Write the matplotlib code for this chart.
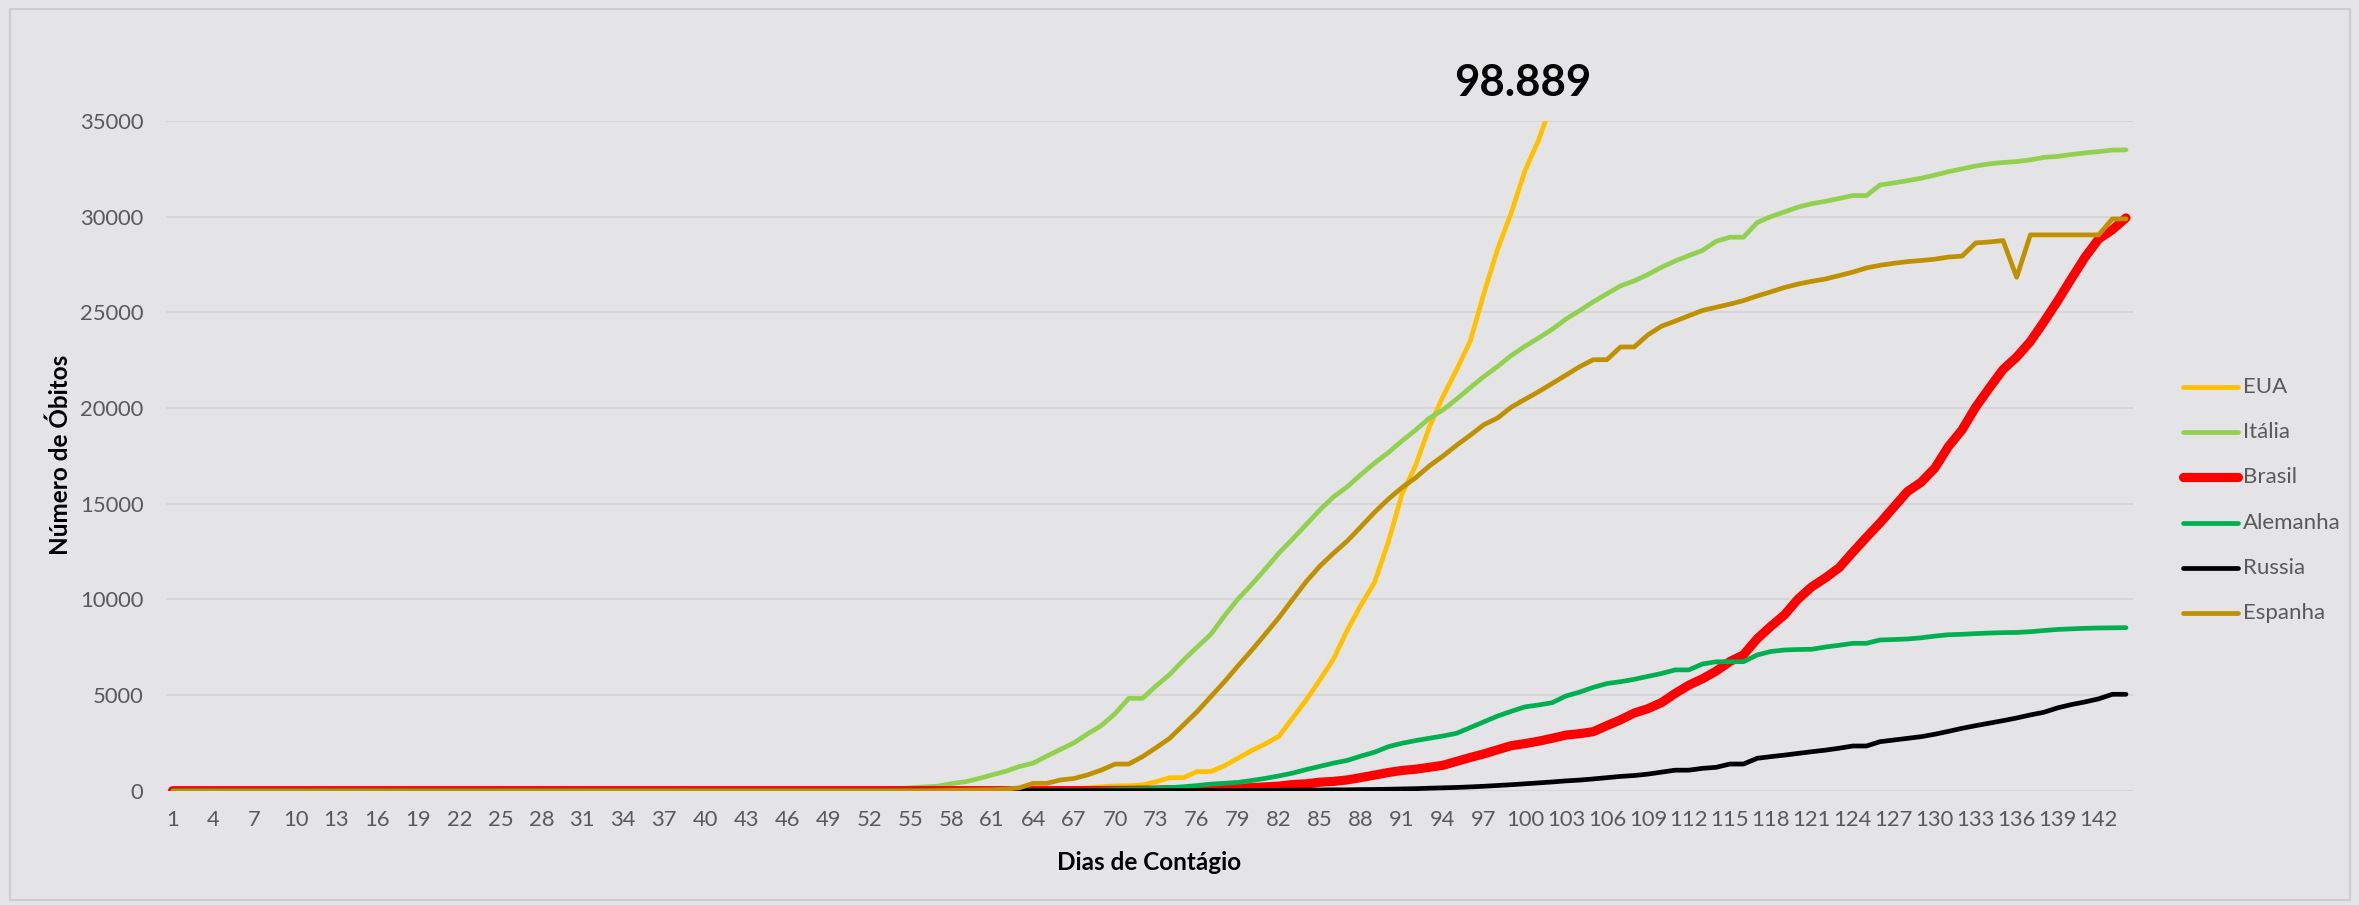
import matplotlib
matplotlib.use("Agg")
import matplotlib.pyplot as plt
from matplotlib.patches import Rectangle
from matplotlib.lines import Line2D

# ---------------- data ----------------
days = list(range(1, 145))

eua = [0] * 49 + [
    1, 1, 6, 9, 11, 12, 15, 19, 22, 26,            # 50-59
    30, 38, 41, 48, 57, 69, 87, 110, 150, 205,     # 60-69
    250, 260, 300, 470, 680, 680, 1000, 1000, 1300, 1700,   # 70-79
    2100, 2450, 2850, 3800, 4750, 5800, 6900, 8400, 9700, 10900,  # 80-89
    13000, 15500, 17000, 19000, 20600, 22000, 23500, 26000, 28300, 30200,  # 90-99
    32400, 34000, 36000,                            # 100-102
]

italia = [0] * 41 + [
    1, 2, 3, 7, 10, 12, 17, 21,                     # 42-49
    29, 34, 52, 79, 107, 148, 197, 233, 366, 463,   # 50-59
    631, 827, 1016, 1266, 1441, 1809, 2158, 2503, 2978, 3405,  # 60-69
    4032, 4825, 4825, 5476, 6077, 6820, 7503, 8165, 9134, 10023,  # 70-79
    10779, 11591, 12428, 13155, 13915, 14681, 15362, 15887, 16523, 17127,  # 80-89
    17669, 18279, 18849, 19468, 19899, 20465, 21067, 21645, 22170, 22745,  # 90-99
    23227, 23660, 24114, 24648, 25085, 25549, 25969, 26384, 26644, 26977,  # 100-109
    27359, 27682, 27967, 28236, 28710, 28926, 28926, 29690, 30000, 30250,  # 110-119
    30500, 30680, 30800, 30950, 31102, 31102, 31660, 31760, 31880, 32010,  # 120-129
    32170, 32350, 32500, 32650, 32760, 32830, 32880, 32970, 33100, 33150,  # 130-139
    33250, 33330, 33400, 33480, 33490,              # 140-144
]

brasil = [0] * 66 + [
    1, 4, 6,                                        # 67-69
    11, 18, 25, 34, 46, 59, 77, 92, 111, 136,       # 70-79
    159, 201, 240, 324, 359, 445, 486, 564, 686, 819,  # 80-89
    950, 1057, 1124, 1223, 1328, 1532, 1736, 1924, 2141, 2354,  # 90-99
    2462, 2587, 2741, 2906, 2980, 3084, 3400, 3704, 4057, 4286,  # 100-109
    4603, 5083, 5513, 5850, 6250, 6750, 7100, 7938, 8588, 9190,  # 110-119
    10017, 10656, 11123, 11653, 12461, 13240, 13999, 14817, 15633, 16118,  # 120-129
    16853, 17983, 18859, 20047, 21048, 22013, 22666, 23473, 24512, 25598,  # 130-139
    26754, 27878, 28834, 29314, 29937,              # 140-144
]

alemanha = [0] * 58 + [
    2,                                              # 59
    2, 3, 3, 7, 9, 11, 17, 24, 28, 44,              # 60-69
    67, 84, 94, 123, 157, 206, 267, 342, 385, 433,  # 70-79
    533, 645, 775, 920, 1107, 1275, 1444, 1584, 1810, 2016,  # 80-89
    2300, 2480, 2620, 2740, 2860, 3000, 3300, 3600, 3900, 4150,  # 90-99
    4380, 4480, 4600, 4950, 5150, 5400, 5600, 5697, 5822, 5976,  # 100-109
    6126, 6314, 6314, 6623, 6736, 6744, 6744, 7093, 7275, 7354,  # 110-119
    7380, 7392, 7510, 7600, 7703, 7703, 7877, 7900, 7929, 7990,  # 120-129
    8080, 8150, 8174, 8210, 8240, 8260, 8270, 8310, 8372, 8428,  # 130-139
    8460, 8487, 8504, 8515, 8521,                   # 140-144
]

russia = [0] * 68 + [
    1,                                              # 69
    1, 1, 1, 1, 1, 3, 3, 4, 4, 8,                   # 70-79
    9, 17, 24, 30, 34, 43, 45, 47, 58, 63,          # 80-89
    76, 94, 106, 130, 148, 170, 198, 232, 273, 313,  # 90-99
    361, 405, 456, 513, 555, 615, 681, 747, 794, 867,  # 100-109
    972, 1073, 1073, 1169, 1222, 1394, 1394, 1692, 1780, 1860,  # 110-119
    1950, 2038, 2120, 2220, 2336, 2336, 2562, 2650, 2740, 2823,  # 120-129
    2950, 3100, 3261, 3400, 3530, 3660, 3800, 3960, 4100, 4330,  # 130-139
    4500, 4640, 4800, 5039, 5039,                   # 140-144
]

espanha = [0] * 52 + [
    1, 2, 3, 5, 10, 17, 28,                         # 53-59
    35, 54, 84, 150, 385, 385, 560, 640, 830, 1080,  # 60-69
    1394, 1394, 1777, 2250, 2741, 3434, 4129, 4913, 5690, 6528,  # 70-79
    7340, 8189, 9053, 10003, 10935, 11744, 12418, 13055, 13798, 14555,  # 80-89
    15238, 15843, 16353, 16972, 17489, 18056, 18579, 19130, 19478, 20043,  # 90-99
    20453, 20852, 21282, 21717, 22157, 22524, 22524, 23190, 23190, 23822,  # 100-109
    24275, 24543, 24824, 25100, 25264, 25428, 25613, 25857, 26070, 26299,  # 110-119
    26478, 26621, 26744, 26920, 27104, 27321, 27459, 27563, 27650, 27709,  # 120-129
    27778, 27888, 27940, 28628, 28678, 28752, 26834, 29047, 29047, 29047,  # 130-139
    29047, 29047, 29047, 29883, 29883,              # 140-144
]

series_names = ["EUA", "Itália", "Brasil", "Alemanha", "Russia", "Espanha"]
series_values = [eua, italia, brasil, alemanha, russia, espanha]
series_colors = ["#FFC000", "#92D050", "#FF0000", "#00B050", "#000000", "#BF9000"]
series_widths = [3.4, 3.4, 6.6, 3.4, 3.4, 3.4]

xtick_labels = list(range(1, 143, 3))
ytick_values = list(range(0, 35001, 5000))
annotation_text = "98.889"

# ---------------- figure ----------------
W, H = 2359, 905
BG = "#E4E4E6"
fig = plt.figure(figsize=(W / 100, H / 100), dpi=100, facecolor=BG)

left_px, right_px = 165.7, 2132.8
bottom_px, top_px = 790.7, 121.0
ax = fig.add_axes([left_px / W, 1 - bottom_px / H,
                   (right_px - left_px) / W, (bottom_px - top_px) / H])
ax.set_facecolor(BG)

FONT = ["Lato", "DejaVu Sans"]
TICK_COLOR = "#595959"

for name, vals, col, lw in zip(series_names, series_values, series_colors, series_widths):
    ax.plot(days[:len(vals)], vals, color=col, lw=lw, label=name,
            solid_capstyle="round", solid_joinstyle="round", zorder=3)

ax.set_xlim(0.5, 144.5)
ax.set_ylim(0, 35000)

ax.set_yticks(ytick_values)
ax.set_yticklabels([str(v) for v in ytick_values], fontfamily=FONT,
                   fontsize=15.8, color=TICK_COLOR)
ax.set_xticks(xtick_labels)
ax.set_xticklabels([str(v) for v in xtick_labels], fontfamily=FONT,
                   fontsize=15.8, color=TICK_COLOR)
ax.tick_params(axis="both", length=0)
ax.tick_params(axis="y", pad=16)
ax.tick_params(axis="x", pad=14)

ax.grid(axis="y", color="#D6D6D8", lw=1.5, zorder=0)
ax.set_axisbelow(True)
for s in ax.spines.values():
    s.set_visible(False)

# axis titles
fig.text(60 / W, 1 - 455 / H, "Número de Óbitos", rotation=90, ha="center",
         va="center", fontsize=17.5, fontweight="bold", color="black",
         fontfamily=FONT)
fig.text(1149 / W, 1 - 862 / H, "Dias de Contágio", ha="center", va="center",
         fontsize=17.5, fontweight="bold", color="black", fontfamily=FONT)

# annotation of final USA value
fig.text(1523 / W, 1 - 83 / H, annotation_text, ha="center", va="center",
         fontsize=31.5, fontweight="bold", color="black", fontfamily=FONT)

# legend (drawn at fixed positions to match the reference layout)
leg_x0, leg_x1, leg_tx = 2183, 2238, 2243
leg_y0, leg_dy = 387, 45.2
for i, (name, col, lw) in enumerate(zip(series_names, series_colors, series_widths)):
    yy = 1 - (leg_y0 + i * leg_dy) / H
    fig.add_artist(Line2D([leg_x0 / W, leg_x1 / W], [yy, yy], color=col, lw=lw,
                          solid_capstyle="round", transform=fig.transFigure))
    fig.text(leg_tx / W, yy, name, ha="left", va="center", fontsize=16,
             color=TICK_COLOR, fontfamily=FONT)

# outer frame
fig.patches.append(Rectangle((10 / W, 5 / H), 2340 / W, 891 / H,
                             transform=fig.transFigure, fill=False,
                             edgecolor="#CDCDCF", lw=1.5))

fig.savefig("out.png", dpi=100, facecolor=BG)
